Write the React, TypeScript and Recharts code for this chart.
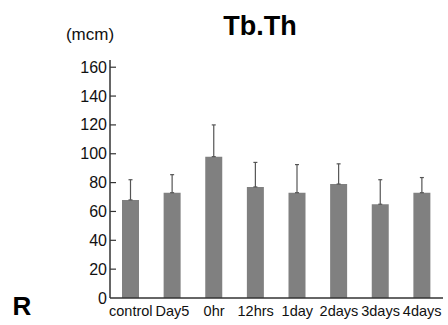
import React from "react";
import { BarChart, Bar, XAxis, YAxis, ErrorBar } from "recharts";

const categories = ["control", "Day5", "0hr", "12hrs", "1day", "2days", "3days", "4days"];
const means = [68, 73, 98, 77, 73, 79, 65, 73];
const sdUpper = [14, 12.5, 22, 17, 19.5, 14, 17, 10.5];
const yTicks = [0, 20, 40, 60, 80, 100, 120, 140, 160];

const data = categories.map((c, i) => ({
  name: c,
  value: means[i],
  err: [0, sdUpper[i]],
}));

const FONT = "'Liberation Sans', Arial, sans-serif";

const YTick = (props: any) => {
  const { x, y, payload } = props;
  return (
    <g>
      <text x={x} y={y} dy={5.5} textAnchor="end" fontSize={16} fill="#111" fontFamily={FONT}>
        {payload.value}
      </text>
      {payload.value !== 0 && (
        <line x1={x + 3} x2={x + 9} y1={y} y2={y} stroke="#333" strokeWidth={1.2} />
      )}
    </g>
  );
};

export default function App() {
  return (
    <div style={{ position: "absolute", left: 0, top: 0, width: 448, height: 325, background: "#fff" }}>
      <BarChart
        width={448}
        height={325}
        data={data}
        margin={{ top: 60, right: 5, left: 0, bottom: 0 }}
        barCategoryGap="20%"
      >
        <text x={260} y={35} textAnchor="middle" fontSize={27} fontWeight="bold" fontFamily={FONT} fill="#000">
          Tb.Th
        </text>
        <text x={90} y={40} textAnchor="middle" fontSize={17} fontFamily={FONT} fill="#111">
          (mcm)
        </text>
        <text x={22} y={315} textAnchor="middle" fontSize={26} fontWeight="bold" fontFamily={FONT} fill="#000">
          R
        </text>
        <XAxis
          dataKey="name"
          interval={0}
          tickLine={false}
          axisLine={{ stroke: "#333", strokeWidth: 1.5 }}
          height={27}
          tick={{ fontSize: 14.5, fill: "#111", fontFamily: FONT }}
          tickMargin={2}
        />
        <YAxis
          width={110}
          domain={[0, 165]}
          ticks={yTicks}
          tickLine={false}
          tickSize={0}
          tickMargin={3}
          axisLine={{ stroke: "#333", strokeWidth: 1.5 }}
          tick={<YTick />}
          interval={0}
        />
        <Bar dataKey="value" fill="#808080" barSize={17} isAnimationActive={false}>
          <ErrorBar dataKey="err" width={2} stroke="#555" strokeWidth={1.2} direction="y" />
        </Bar>
      </BarChart>
    </div>
  );
}
